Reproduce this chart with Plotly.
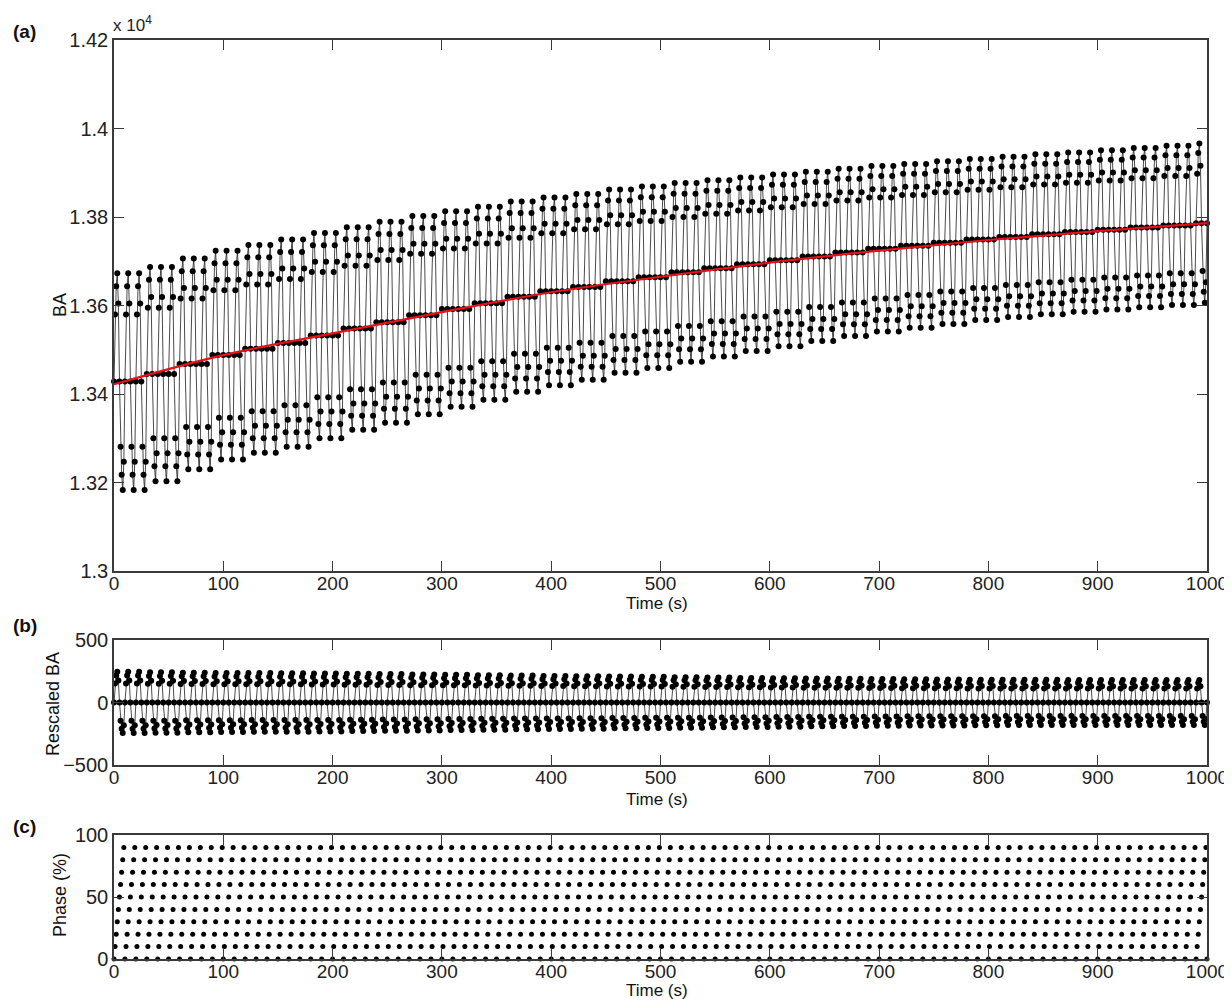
import plotly.graph_objects as go

# ---------------- data ----------------
phase_levels = [0, 10, 20, 30, 40, 50, 60, 70, 80, 90]
# waveform of one 10-sample cycle, as fraction of cycle amplitude
phase_shape = [0.0, 0.62, 0.88, 1.0, 0.72, 0.0, -0.60, -0.86, -1.0, -0.74]

# baseline level of each 30-s step (3 cycles) of BA
group_base = [13428, 13445, 13468, 13488, 13502, 13515, 13532, 13548, 13562, 13578,
              13592, 13605, 13620, 13632, 13642, 13655, 13664, 13675, 13684, 13693,
              13702, 13711, 13720, 13728, 13735, 13742, 13749, 13755, 13761, 13766,
              13771, 13776, 13781, 13786]
# oscillation amplitude of each 30-s step
group_amp = [245, 242, 238, 236, 235, 234, 232, 229, 227, 224,
             221, 218, 215, 212, 210, 207, 205, 202, 199, 196,
             194, 191, 189, 187, 185, 184, 182, 181, 181, 180,
             180, 180, 180, 180]

# smooth trend (red line)
trend_t = [0, 100, 200, 300, 400, 500, 600, 700, 800, 900, 1000]
trend_ba = [13422, 13488, 13537, 13585, 13630, 13665, 13697, 13724, 13748, 13768, 13786]

time_s = list(range(0, 1001))

x_ticks = [0, 100, 200, 300, 400, 500, 600, 700, 800, 900, 1000]
ba_tickvals = [13000, 13200, 13400, 13600, 13800, 14000, 14200]
ba_ticktext = ["1.3", "1.32", "1.34", "1.36", "1.38", "1.4", "1.42"]
resc_ticks = [-500, 0, 500]
phase_ticks = [0, 50, 100]

# ---------------- build series ----------------
ba = [group_base[t // 30] + group_amp[t // 30] * phase_shape[t % 10] for t in time_s]
rescaled = [group_amp[t // 30] * phase_shape[t % 10] for t in time_s]
phase = [phase_levels[t % 10] for t in time_s]

FONT = "Liberation Sans, Arial, sans-serif"
AX = "#3a3a3a"

fig = go.Figure()
fig.add_trace(go.Scatter(x=time_s, y=ba, mode="lines+markers",
                         line=dict(color="rgba(30,30,30,0.8)", width=1.0),
                         marker=dict(color="black", size=6),
                         cliponaxis=False, xaxis="x", yaxis="y"))
fig.add_trace(go.Scatter(x=trend_t, y=trend_ba, mode="lines",
                         line=dict(color="#e8101a", width=2.2, shape="spline"),
                         xaxis="x", yaxis="y"))
fig.add_trace(go.Scatter(x=time_s, y=rescaled, mode="lines+markers",
                         line=dict(color="rgba(30,30,30,0.8)", width=1.0),
                         marker=dict(color="black", size=6),
                         cliponaxis=False, xaxis="x2", yaxis="y2"))
fig.add_trace(go.Scatter(x=time_s, y=phase, mode="markers",
                         marker=dict(color="black", size=5),
                         cliponaxis=False, xaxis="x3", yaxis="y3"))

# page body has an 8 px margin: the figure is placed at (8, 8)
OFF = 8
W, H = 1222, 992


def px(xr):
    return (xr - OFF) / W


def py(yr):
    return 1 - (yr - OFF) / H


def ydom(top, bot):
    return [py(bot), py(top)]


common_x = dict(range=[0, 1000], tickvals=x_ticks, ticks="inside", ticklen=10,
                tickcolor=AX, showline=True, linecolor=AX, linewidth=1.5, mirror="ticks",
                showgrid=False, zeroline=False, domain=[px(114), px(1207)], automargin=False,
                ticklabeloverflow="allow", ticklabelstandoff=-6,
                tickfont=dict(family=FONT, size=19, color="#222"))
common_y = dict(ticks="inside", ticklen=10, tickcolor=AX, showline=True, linecolor=AX,
                linewidth=1.5, mirror="ticks", showgrid=False, zeroline=False, automargin=False,
                ticklabeloverflow="allow",
                tickfont=dict(family=FONT, size=20, color="#222"))

fig.update_layout(
    width=W, height=H, showlegend=False,
    plot_bgcolor="white", paper_bgcolor="white",
    margin=dict(l=0, r=0, t=0, b=0, autoexpand=False),
    xaxis=dict(common_x, anchor="y"),
    yaxis=dict(common_y, anchor="x", domain=ydom(40, 571), range=[13000, 14200],
               tickvals=ba_tickvals, ticktext=ba_ticktext),
    xaxis2=dict(common_x, anchor="y2"),
    yaxis2=dict(common_y, anchor="x2", domain=ydom(640, 765), range=[-500, 500],
                tickvals=resc_ticks),
    xaxis3=dict(common_x, anchor="y3"),
    yaxis3=dict(common_y, anchor="x3", domain=ydom(835, 959), range=[0, 100],
                tickvals=phase_ticks),
)

# panel letters
for txt, ypx in [("(a)", 32), ("(b)", 625), ("(c)", 826)]:
    fig.add_annotation(text="<b>" + txt + "</b>", xref="paper", yref="paper",
                       x=px(11), y=py(ypx), xanchor="left", yanchor="middle",
                       showarrow=False, font=dict(family=FONT, size=19, color="#111"))
# exponent
fig.add_annotation(text="x 10<sup>4</sup>", xref="paper", yref="paper",
                   x=px(111), y=py(37), xanchor="left", yanchor="bottom",
                   showarrow=False, font=dict(family=FONT, size=17, color="#222"))
# x-axis titles
for ypx in [603, 799, 990]:
    fig.add_annotation(text="Time (s)", xref="paper", yref="paper",
                       x=px(657), y=py(ypx), xanchor="center", yanchor="middle",
                       showarrow=False, font=dict(family=FONT, size=17, color="#111"))
# y-axis titles
for txt, xpx, ypx in [("BA", 60, 305), ("Rescaled BA", 53, 704), ("Phase (%)", 60, 895)]:
    fig.add_annotation(text=txt, xref="paper", yref="paper", textangle=-90,
                       x=px(xpx), y=py(ypx), xanchor="center", yanchor="middle",
                       showarrow=False, font=dict(family=FONT, size=18, color="#111"))

fig.write_html("out.html")
